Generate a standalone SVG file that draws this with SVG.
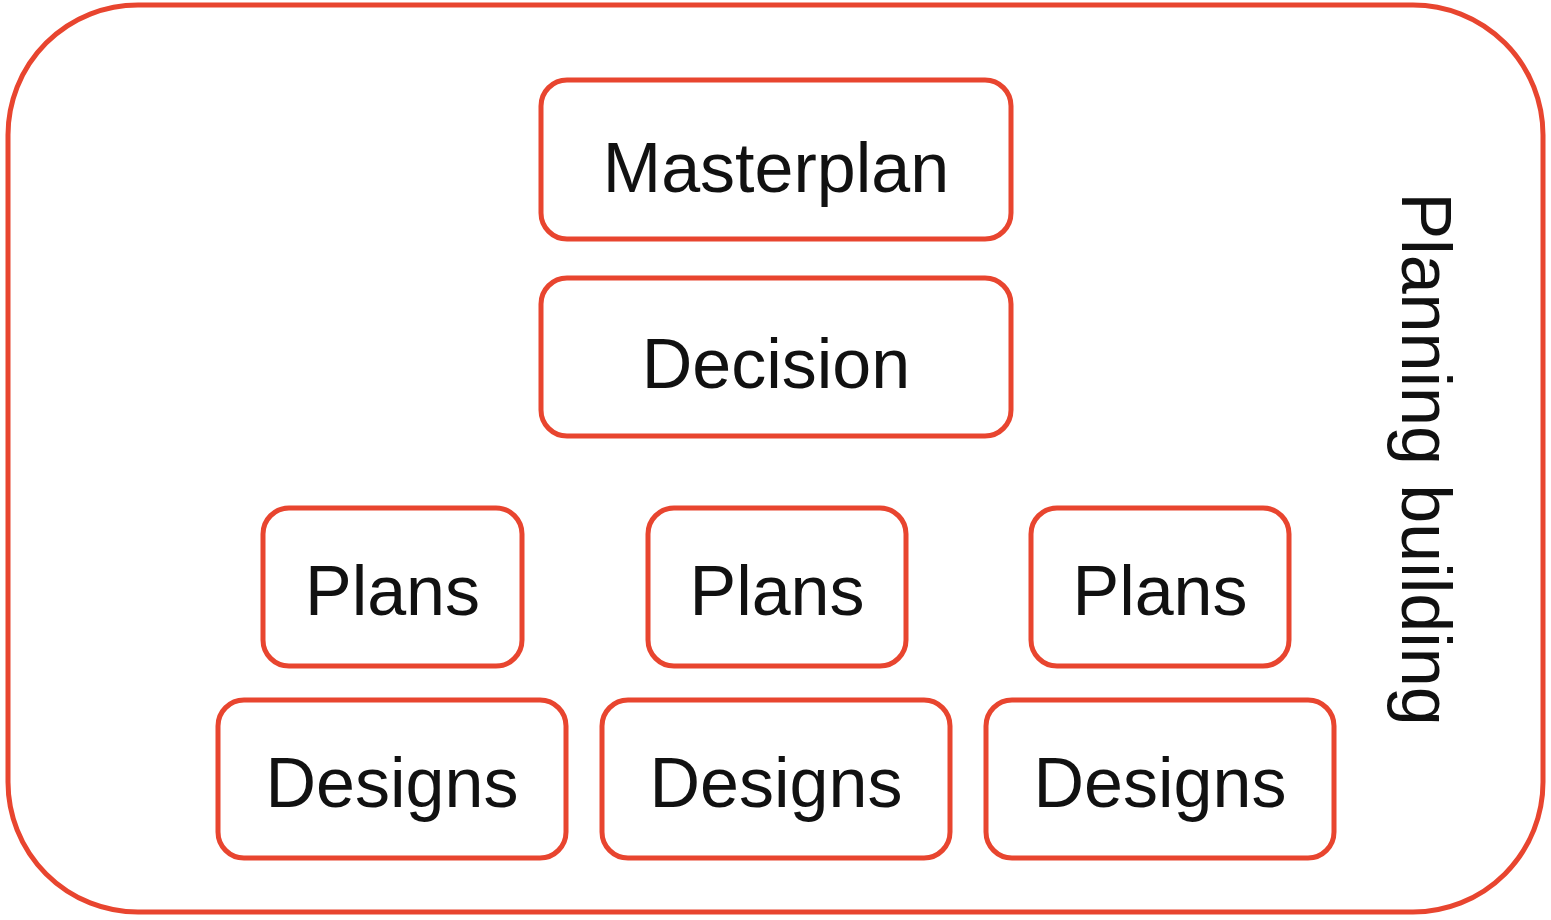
<svg xmlns="http://www.w3.org/2000/svg" width="1551" height="920" viewBox="0 0 1551 920">
<style>
.box{fill:#ffffff;stroke:#e8452f;stroke-width:5}
.lbl{font-family:"Liberation Sans",Arial,sans-serif;font-size:70px;fill:#111111;text-anchor:middle}
</style>
<rect x="0" y="0" width="1551" height="920" fill="#ffffff"/>
<g id="planning-building">
<rect class="box" x="8" y="5" width="1535" height="907" rx="130" ry="130"/>
<text class="lbl" transform="translate(1402,459) rotate(90)" x="0" y="0" style="font-size:70px">Planning building</text>
</g>
<g id="connectors"></g>
<g id="masterplan">
<rect class="box" x="541" y="80" width="470" height="159" rx="26"/>
<text class="lbl" x="776" y="192">Masterplan</text>
</g>
<g id="decision">
<rect class="box" x="541" y="278" width="470" height="158" rx="26"/>
<text class="lbl" x="776" y="388">Decision</text>
</g>
<g id="plans1">
<rect class="box" x="263" y="508" width="259" height="158" rx="26"/>
<text class="lbl" x="392.5" y="615">Plans</text>
</g>
<g id="plans2">
<rect class="box" x="648" y="508" width="258" height="158" rx="26"/>
<text class="lbl" x="777" y="615">Plans</text>
</g>
<g id="plans3">
<rect class="box" x="1031" y="508" width="258" height="158" rx="26"/>
<text class="lbl" x="1160" y="615">Plans</text>
</g>
<g id="designs1">
<rect class="box" x="218" y="700" width="348" height="158" rx="26"/>
<text class="lbl" x="392" y="807">Designs</text>
</g>
<g id="designs2">
<rect class="box" x="602" y="700" width="348" height="158" rx="26"/>
<text class="lbl" x="776" y="807">Designs</text>
</g>
<g id="designs3">
<rect class="box" x="986" y="700" width="348" height="158" rx="26"/>
<text class="lbl" x="1160" y="807">Designs</text>
</g>
</svg>
